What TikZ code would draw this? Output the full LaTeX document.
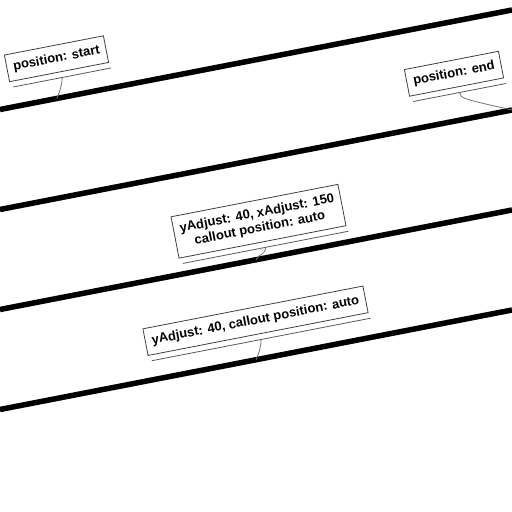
\documentclass[tikz,border=0pt]{standalone}
\usepackage{fontspec}
\setmainfont{Liberation Sans}
\usetikzlibrary{calc}
\begin{document}
\begin{tikzpicture}[x=1pt,y=-1pt,
  mainline/.style={line width=5.5pt,black},
  lbl/.style={draw=black!75,fill=white,line width=0.8pt,rotate=11,
    font=\bfseries\fontsize{13}{15}\selectfont,align=center,
    inner xsep=6.5pt,inner ysep=7.5pt},
  shadowline/.style={draw=black!65,line width=0.8pt},
  callout/.style={draw=black!55,line width=0.8pt}]
\useasboundingbox (0,0) rectangle (512,512);
% main lines
\coordinate (a1) at (0,109.5); \coordinate (e1) at (512,10);
\coordinate (a2) at (0,209.5); \coordinate (e2) at (512,110);
\coordinate (a3) at (0,309.5); \coordinate (e3) at (512,210);
\coordinate (a4) at (0,409.5); \coordinate (e4) at (512,310);
\draw[mainline] (a1) -- (e1);
\draw[mainline] (a2) -- (e2);
\draw[mainline] (a3) -- (e3);
\draw[mainline] (a4) -- (e4);
% labels
\node[lbl] (b1) at (56.5,58.75) {position: start};
\node[lbl] (b2) at (454,73.75) {position: end};
\node[lbl] (b3) at (258.5,221.25) {yAdjust: 40, xAdjust: 150\\callout position: auto};
\node[lbl] (b4) at (255.5,320.75) {yAdjust: 40, callout position: auto};
% shadows and callouts
\foreach \b in {b1,b2,b3,b4}{
  \draw[shadowline] ($(\b.south west)+(11:3pt)+(-79:5.5pt)$) -- ($(\b.south east)+(11:1pt)+(-79:5.5pt)$);
  \coordinate (\b s) at ($(\b.south)+(11:2pt)+(-79:5.5pt)$);
}
\coordinate (c1) at ($(a1)!0.111!(e1)$);
\coordinate (c3) at ($(a3)!0.5!(e3)$);
\coordinate (c4) at ($(a4)!0.5!(e4)$);
\draw[callout] (b1s) .. controls ($(b1s)+(-90:7pt)$) and ($(c1)+(65:6pt)$) .. (c1);
\draw[callout] (b3s) .. controls ($(b3s)+(-90:7pt)$) and ($(c3)+(65:6pt)$) .. (c3);
\draw[callout] (b4s) .. controls ($(b4s)+(-90:7pt)$) and ($(c4)+(65:6pt)$) .. (c4);
\draw[callout] (b2s) .. controls ($(b2s)+(-80:6pt)$) .. (e2);
\end{tikzpicture}
\end{document}
